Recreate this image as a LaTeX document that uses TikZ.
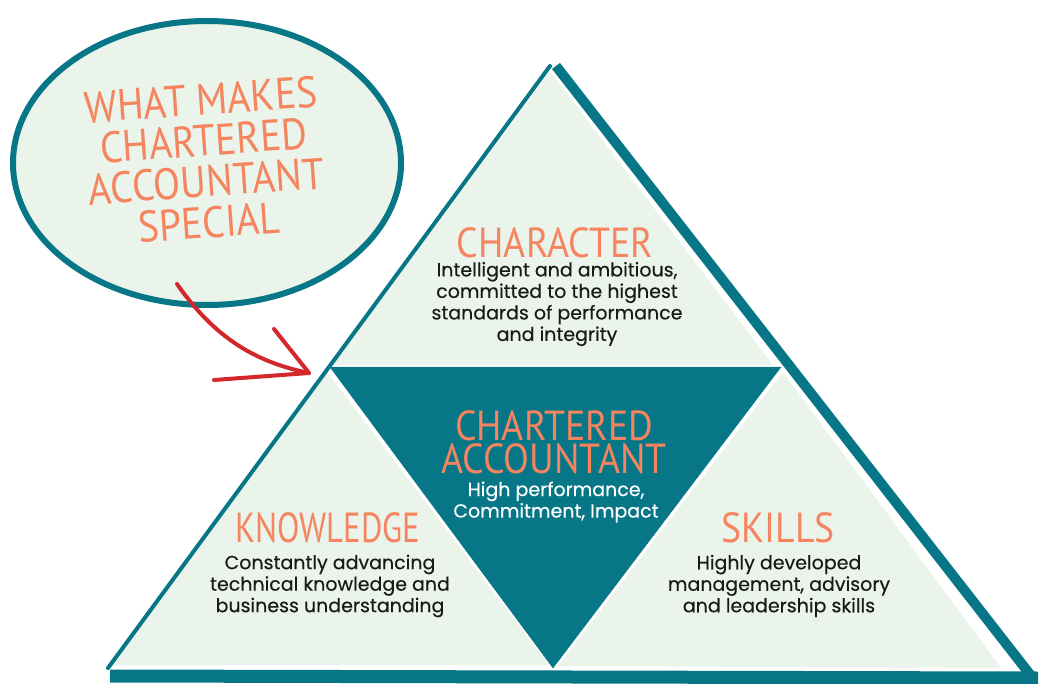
\documentclass[tikz,border=0pt]{standalone}
\usepackage{fontspec}
\setmainfont{Poppins}[FakeBold=0.25]
\newfontfamily\handfont{PT Sans}[FakeStretch=0.9]
\newfontfamily\handnarrow{PT Sans}[FakeStretch=0.78]
\usetikzlibrary{arrows.meta,shapes.geometric}

\definecolor{caTeal}{HTML}{077787}
\definecolor{caMint}{HTML}{EAF4EA}
\definecolor{caCoral}{HTML}{F5845F}
\definecolor{caRed}{HTML}{D3282B}

\tikzset{
  heading/.style={text=caCoral, align=center, inner sep=0pt,
    font=\handfont\fontsize{42}{33}\selectfont},
  blurb/.style={text=black!90, align=center, inner sep=0pt,
    font=\fontsize{19}{21.5}\selectfont},
  piece/.style={fill=caMint},
  rim/.style={draw=caTeal},
}

\begin{document}
\begin{tikzpicture}[x=1pt,y=-1pt]
	\useasboundingbox (0,0) rectangle (1046,684);

	% the bubble
	\node[ellipse, rim, line width=6pt, fill=caMint, minimum width=388pt, minimum height=284pt] (bubble) at (207,163) {};
	\node[heading, rotate=4, font=\handfont\fontsize{44}{41}\selectfont] (question) at (205,161) {WHAT MAKES\\CHARTERED\\ACCOUNTANT\\SPECIAL};

	% pyramid
	\coordinate (top) at (550,66);
	\coordinate (baseleft) at (108,668);
	\coordinate (rimtop) at (556,66);
	\coordinate (rimright) at (1032,677);
	\coordinate (floorleft) at (110,676);
	\coordinate (floorright) at (1038,678);

	\filldraw[caTeal] (330,367) -- (781,367) -- (553,668) -- cycle;
	\fill[piece] (550,71) -- (333,365) -- (773,365) -- cycle;
	\fill[piece] (327,372) -- (111,665) -- (549,665) -- cycle;
	\fill[piece] (783,372) -- (558,666) -- (1001,668) -- cycle;

	\draw[rim, line width=4pt, line cap=round] (top) -- (baseleft);
	\draw[rim, line width=10pt] (rimtop) -- (rimright);
	\draw[rim, line width=13pt] (floorleft) -- (floorright);

	% the arrow
	\coordinate (tail) at (177,284);
	\coordinate (tip) at (309,373);
	\coordinate (barbup) at (274,329);
	\coordinate (barblow) at (214,380);
	\draw[caRed, line width=4pt, line cap=round] (tail) .. controls (215,338) and (255,362) .. (tip);
	\draw[caRed, line width=4pt, line cap=round, line join=round] (barbup) -- (tip) -- (barblow);

	% texts
	\node[heading] (character) at (555,243) {CHARACTER};
	\node[blurb] (charactertext) at (557,304) {Intelligent and ambitious,\\committed to the highest\\standards of performance\\and integrity};

	\node[heading] (ca) at (554,442) {CHARTERED\\ACCOUNTANT};
	\node[blurb, text=white] (catext) at (556,502) {High performance,\\Commitment, Impact};

	\node[heading, font=\handnarrow\fontsize{42}{33}\selectfont] (knowledge) at (328,528) {KNOWLEDGE};
	\node[blurb] (knowledgetext) at (330,586) {Constantly advancing\\technical knowledge and\\business understanding};

	\node[heading] (skills) at (778,528) {SKILLS};
	\node[blurb] (skillstext) at (779,586) {Highly developed\\management, advisory\\and leadership skills};
\end{tikzpicture}
\end{document}
